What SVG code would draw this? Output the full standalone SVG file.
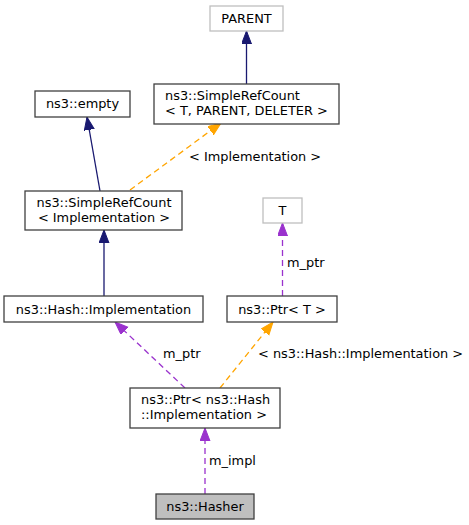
<svg xmlns="http://www.w3.org/2000/svg" width="469" height="525" viewBox="0 0 469 525">
<style>
  .node rect { fill: #ffffff; stroke: #404040; stroke-width: 1.3; }
  .node.ext rect { stroke: #bfbfbf; }
  .node.cur rect { fill: #bfbfbf; }
  text { font-family: "DejaVu Sans", "Liberation Sans", sans-serif; font-size: 12.9px; fill: #000000; }
  .c { text-anchor: middle; }
  .e { fill: none; stroke-width: 1.3; }
  .inh { stroke: #191970; marker-end: url(#aBlue); }
  .tpl { stroke: #ffa500; stroke-dasharray: 6,4; marker-end: url(#aOrange); }
  .use { stroke: #9a32cd; stroke-dasharray: 6,4; marker-end: url(#aPurple); }
</style>
<defs>
  <marker id="aBlue" markerUnits="userSpaceOnUse" markerWidth="14" markerHeight="11" refX="13" refY="5" orient="auto"><path d="M0,0 L13,5 L0,10 z" fill="#191970" stroke="#191970"/></marker>
  <marker id="aOrange" markerUnits="userSpaceOnUse" markerWidth="14" markerHeight="11" refX="13" refY="5" orient="auto"><path d="M0,0 L13,5 L0,10 z" fill="#ffa500" stroke="#ffa500"/></marker>
  <marker id="aPurple" markerUnits="userSpaceOnUse" markerWidth="14" markerHeight="11" refX="13" refY="5" orient="auto"><path d="M0,0 L13,5 L0,10 z" fill="#9a32cd" stroke="#9a32cd"/></marker>
</defs>
<rect width="469" height="525" fill="#ffffff"/>
<g id="edges">
  <path class="e inh" d="M246.5,84 L246.5,31"/>
  <path class="e inh" d="M100,191 L87,117"/>
  <path class="e tpl" d="M130,190 L221,123"/>
  <path class="e inh" d="M104,296 L104,230"/>
  <path class="e use" d="M282.5,296 L282.5,223"/>
  <path class="e use" d="M185,388 L115,322"/>
  <path class="e tpl" d="M220,388 L273,322"/>
  <path class="e use" d="M205,494 L205,428"/>
  <text x="189" y="161">&lt; Implementation &gt;</text>
  <text x="287" y="267">m_ptr</text>
  <text x="163" y="358">m_ptr</text>
  <text x="258" y="358">&lt; ns3::Hash::Implementation &gt;</text>
  <text x="209" y="465">m_impl</text>
</g>
<g id="node-parent" class="node ext"><rect x="210" y="6" width="73" height="25"/><text class="c" x="246.5" y="23">PARENT</text></g>
<g id="node-src-tpd" class="node"><rect x="154" y="84" width="185" height="40"/><text x="165" y="100">ns3::SimpleRefCount</text><text x="165" y="115">&lt; T, PARENT, DELETER &gt;</text></g>
<g id="node-empty" class="node"><rect x="35" y="91" width="95" height="26"/><text class="c" x="82.5" y="108">ns3::empty</text></g>
<g id="node-src-impl" class="node"><rect x="25" y="191" width="157" height="39"/><text class="c" x="104" y="207">ns3::SimpleRefCount</text><text class="c" x="104" y="222">&lt; Implementation &gt;</text></g>
<g id="node-t" class="node ext"><rect x="263" y="198" width="39" height="25"/><text class="c" x="282.5" y="215">T</text></g>
<g id="node-hash-impl" class="node"><rect x="4" y="296" width="199" height="26"/><text class="c" x="103.5" y="313.5">ns3::Hash::Implementation</text></g>
<g id="node-ptr-t" class="node"><rect x="227" y="296" width="110" height="26"/><text class="c" x="282" y="313.5">ns3::Ptr&lt; T &gt;</text></g>
<g id="node-ptr-hash" class="node"><rect x="130" y="388" width="150" height="40"/><text x="141" y="404">ns3::Ptr&lt; ns3::Hash</text><text x="141" y="419">::Implementation &gt;</text></g>
<g id="node-hasher" class="node cur"><rect x="156" y="494" width="98" height="25"/><text class="c" x="205" y="511">ns3::Hasher</text></g>
</svg>
